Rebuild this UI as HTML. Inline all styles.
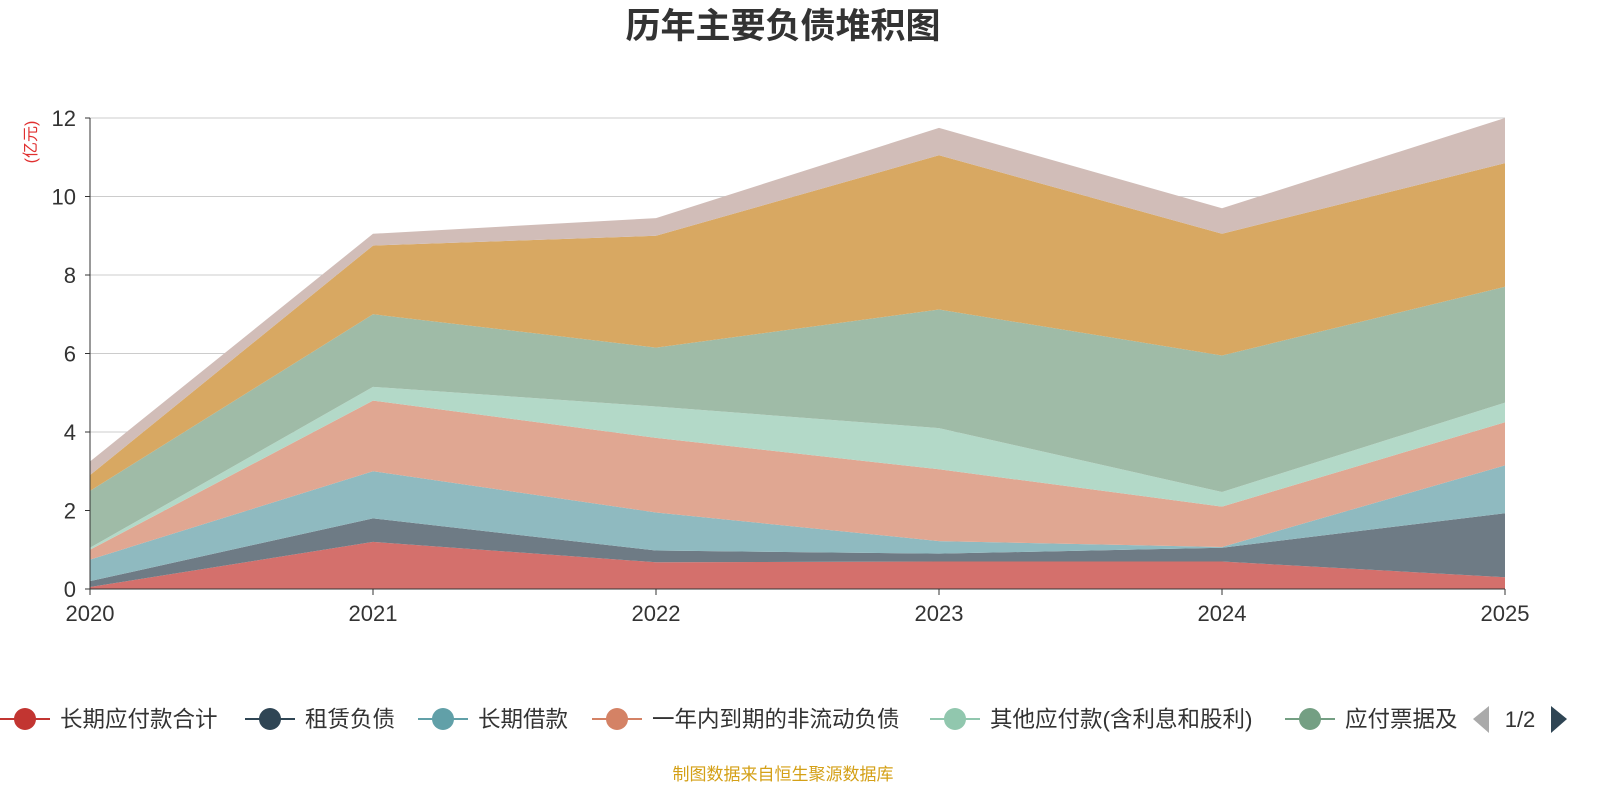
<!DOCTYPE html>
<html><head><meta charset="utf-8"><style>
body{margin:0;width:1600px;height:800px;background:#fff;overflow:hidden;font-family:"Liberation Sans","Noto Sans CJK SC",sans-serif;}
</style></head><body>
<svg id="chart" width="1600" height="800" xmlns="http://www.w3.org/2000/svg">
<text x="783" y="38" text-anchor="middle" font-size="35" font-weight="bold" fill="#333" font-family="Liberation Sans,Noto Sans CJK SC,sans-serif">历年主要负债堆积图</text>
<text transform="translate(36,142) rotate(-90)" text-anchor="middle" font-size="16" fill="#e03030" font-family="Liberation Sans,Noto Sans CJK SC,sans-serif">(亿元)</text>
<g id="grid"></g><g id="areas"></g><g id="axes"></g><g id="legend"></g>
<text x="783" y="780" text-anchor="middle" font-size="17" fill="#d4a017" font-family="Liberation Sans,Noto Sans CJK SC,sans-serif">制图数据来自恒生聚源数据库</text>
</svg>
<script>
const years=["2020","2021","2022","2023","2024","2025"];
const yTicks=[0,2,4,6,8,10,12];
const seriesNames=["长期应付款合计","租赁负债","长期借款","一年内到期的非流动负债","其他应付款(含利息和股利)","应付票据及应付账款","短期借款","其他"];
const s1=[0.05,1.2,0.68,0.7,0.7,0.3];
const s2=[0.15,0.6,0.3,0.2,0.35,1.63];
const s3=[0.55,1.2,0.97,0.32,0.02,1.22];
const s4=[0.25,1.8,1.9,1.83,1.03,1.1];
const s5=[0.05,0.35,0.8,1.05,0.37,0.5];
const s6=[1.45,1.85,1.5,3.02,3.48,2.95];
const s7=[0.4,1.75,2.85,3.93,3.1,3.15];
const s8=[0.35,0.3,0.45,0.7,0.65,1.15];
const seriesData=[s1,s2,s3,s4,s5,s6,s7,s8];
const fills=["#d4706c","#6e7b85","#8fbac0","#e0a792","#b3d9c8","#9fbba7","#d8a862","#d1bdb8"];
const markers=["#c23531","#2f4554","#61a0a8","#d48265","#91c7ae","#749f83"];
const NS="http://www.w3.org/2000/svg";
const x0=90,x1=1505,yb=589,yt=118,ymax=12;
const xs=i=>x0+(x1-x0)*i/(years.length-1);
const ys=v=>yb-(yb-yt)*v/ymax;
function mk(t,a,p){const e=document.createElementNS(NS,t);for(const k in a)e.setAttribute(k,a[k]);p.appendChild(e);return e;}
const grid=document.getElementById('grid'),axes=document.getElementById('axes'),areas=document.getElementById('areas');
yTicks.forEach(v=>{
 const l=mk('line',{x1:x0,x2:x1,y1:ys(v),y2:ys(v),stroke:v?'#ccc':'#333','stroke-width':1},v?grid:axes);
 
 
 const t=mk('text',{x:x0-14,y:ys(v)+8,'text-anchor':'end','font-size':22,fill:'#333'},axes);t.textContent=v;
 
 
 mk('line',{x1:x0-5,x2:x0,y1:ys(v),y2:ys(v),stroke:'#333'},axes);
});
mk('line',{x1:x0,x2:x0,y1:yt,y2:yb,stroke:'#333'},axes);
years.forEach((y,i)=>{
 mk('line',{x1:xs(i),x2:xs(i),y1:yb,y2:yb+6,stroke:'#333'},axes);
 const t=mk('text',{x:xs(i),y:yb+32,'text-anchor':'middle','font-size':22,fill:'#333'},axes);t.textContent=y;
 
 
});
let base=years.map(()=>0);
seriesData.forEach((s,k)=>{
 const top=base.map((b,i)=>b+s[i]);
 let d='M'+top.map((v,i)=>xs(i)+','+ys(v)).join('L');
 for(let i=years.length-1;i>=0;i--)d+='L'+xs(i)+','+ys(base[i]);
 const p=mk('path',{d:d+'Z',fill:fills[k]},areas);
 
 
 base=top;
});
const lg=document.getElementById('legend');
const lx=[0,245,418,592,930,1285];
markers.forEach((c,k)=>{
 const g=mk('g',{},lg);
 
 
 mk('line',{x1:lx[k],x2:lx[k]+50,y1:719,y2:719,stroke:c,'stroke-width':2},g);
 mk('circle',{cx:lx[k]+25,cy:719,r:11,fill:c},g);
 const t=mk('text',{x:lx[k]+60,y:727,'font-size':22.5,fill:'#333'},g);
 t.textContent=k==5?'应付票据及':seriesNames[k];
});
const pl=mk('path',{d:'M1489,706L1473,719L1489,733Z',fill:'#aaa'},lg);


const pt=mk('text',{x:1520,y:727,'font-size':22,fill:'#333','text-anchor':'middle'},lg);pt.textContent='1/2';


const pn=mk('path',{d:'M1551,706L1567,719L1551,733Z',fill:'#2f4554'},lg);


</script>
</body></html>
